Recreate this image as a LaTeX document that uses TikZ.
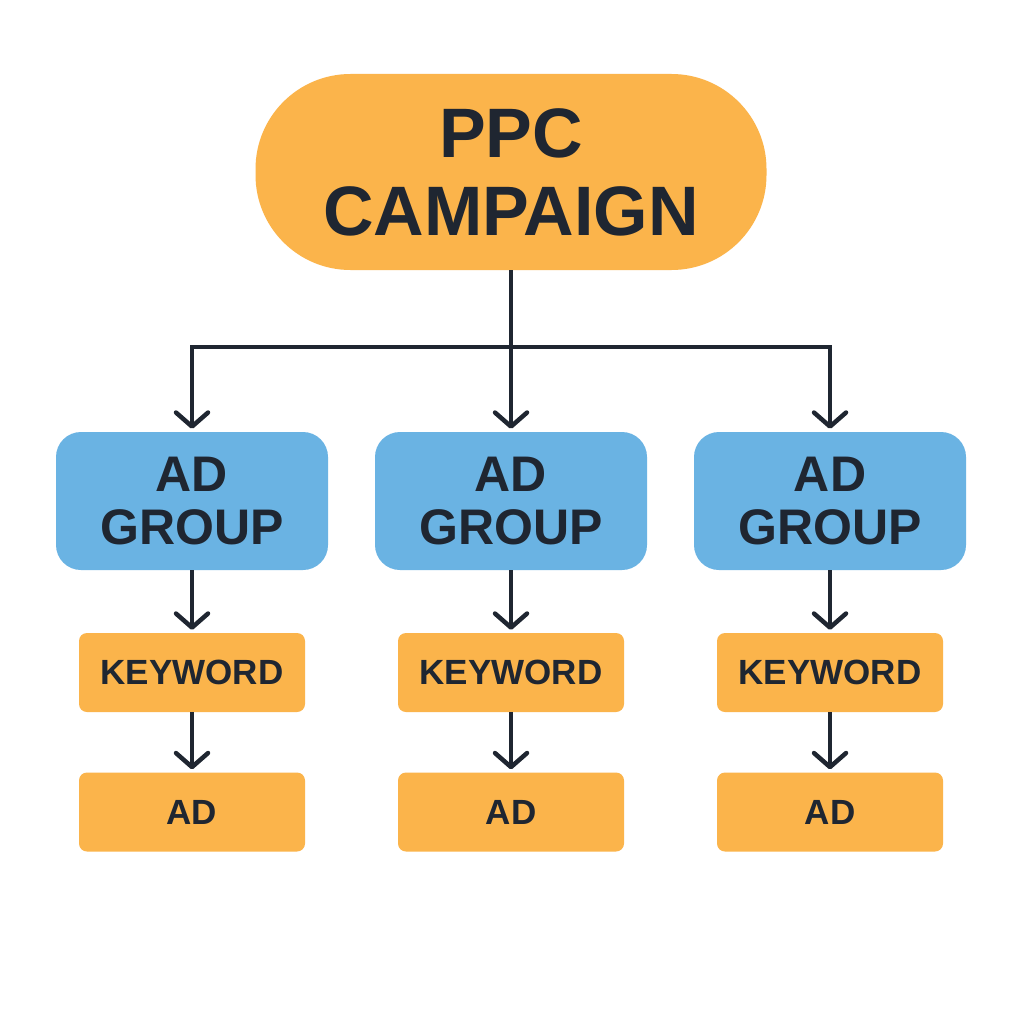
\documentclass[tikz,border=0pt]{standalone}
\usepackage{fontspec}
\setmainfont{Liberation Sans}
\usetikzlibrary{arrows.meta}
\definecolor{orng}{HTML}{FBB44B}
\definecolor{blu}{HTML}{6AB3E3}
\definecolor{ink}{HTML}{1F2631}
\begin{document}
\begin{tikzpicture}[x=1pt,y=-1pt,
  txt/.style={text=ink,align=center,inner sep=0pt},
  pill/.style={txt,fill=orng,rounded corners=95pt,minimum width=511pt,minimum height=196pt,
    font=\fontsize{70}{78}\selectfont\bfseries},
  groupbox/.style={txt,fill=blu,rounded corners=25pt,minimum width=272pt,minimum height=138pt,
    font=\fontsize{50}{53}\selectfont\bfseries},
  leafbox/.style={txt,fill=orng,rounded corners=8pt,minimum width=226pt,minimum height=79pt,
    font=\fontsize{35}{40}\selectfont\bfseries},
  conn/.style={draw=ink,line width=4.5pt},
  arr/.style={conn,-{Straight Barb[length=14pt,width=32pt,line width=4.5pt,round]},shorten >=3pt}
]
\useasboundingbox (0,0) rectangle (1024,1024);
\fill[white] (0,0) rectangle (1024,1024);

\node[pill] (top) at (511,172) {PPC\\CAMPAIGN};

\node[groupbox] (ag1) at (192,501) {AD\\GROUP};
\node[groupbox] (ag2) at (511,501) {AD\\GROUP};
\node[groupbox] (ag3) at (830,501) {AD\\GROUP};

\node[leafbox] (kw1) at (192,672.5) {KEYWORD};
\node[leafbox] (kw2) at (511,672.5) {KEYWORD};
\node[leafbox] (kw3) at (830,672.5) {KEYWORD};

\node[leafbox] (ad1) at (192,812) {AD};
\node[leafbox] (ad2) at (511,812) {AD};
\node[leafbox] (ad3) at (830,812) {AD};

\coordinate (hl) at (192,347);
\coordinate (hr) at (830,347);

\draw[conn,line cap=rect] (hl) -- (hr);
\draw[arr] (hl) -- (ag1);
\draw[arr] (top) -- (ag2);
\draw[arr] (hr) -- (ag3);

\foreach \i in {1,2,3}{
  \draw[arr] (ag\i) -- (kw\i);
  \draw[arr] (kw\i) -- (ad\i);
}
\end{tikzpicture}
\end{document}
